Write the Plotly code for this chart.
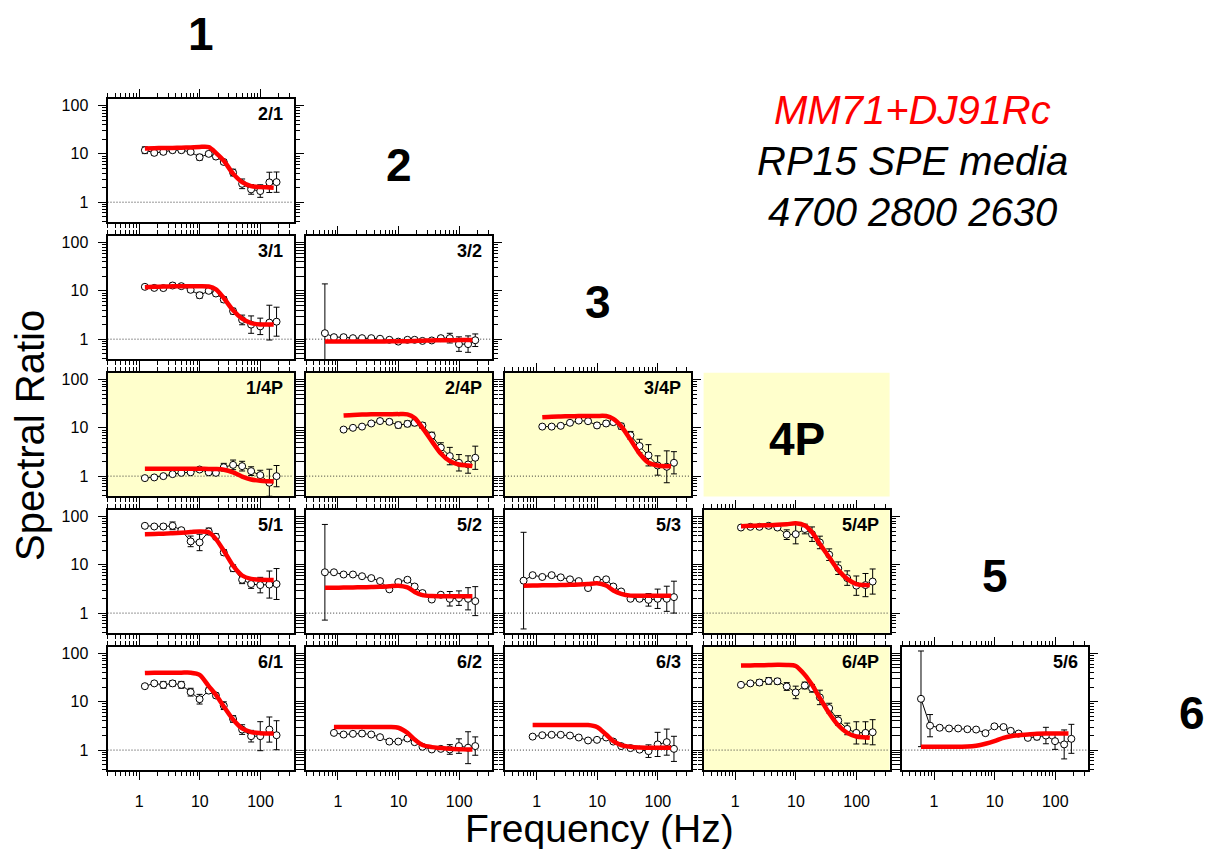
import numpy as np
import plotly.graph_objects as go

# ---------------- data ----------------
FREQ = [0.61, 0.86, 1.24, 1.77, 2.5, 3.55, 4.95, 7.05, 9.9, 14.0, 18.4, 24.8,
        35.3, 49.8, 70.0, 99.0, 140.0, 184.0]
FIT_FREQ = [0.61, 0.86, 1.24, 1.77, 2.5, 3.55, 4.95, 7.05, 9.9, 14.0, 18.4, 24.8,
            35.3, 49.8, 70.0, 99.0, 140.0, 165.0]

X_RANGE = [0.3, 350]
Y_RANGE = [0.38, 138]
REF_LEVEL = 1
N = None

# observed ratio, error (log10 half-width), model fit
R_2_1 = [N, N, 11.9, 10.5, 11.0, 11.9, 11.9, 11.0, 8.5, 10.0, 8.8, 6.8, 4.1, 2.4, 1.84, 1.7, 2.57, 2.6]
E_2_1 = [N, N, 0.07, 0.05, 0.05, 0.05, 0.05, 0.05, 0.06, 0.05, 0.05, 0.05, 0.07, 0.1, 0.1, 0.13, 0.21, 0.21]
F_2_1 = [N, N, 12.9, 13.1, 13.2, 13.3, 13.4, 13.6, 13.9, 13.8, 10.5, 7.2, 3.9, 2.6, 2.15, 2.05, 2.02, 2.0]

R_3_1 = [N, N, 12.1, 11.5, 11.4, 12.9, 12.5, 10.5, 8.1, 10.0, 8.8, 6.6, 3.8, 2.5, 2.0, 1.84, 2.2, 2.3]
E_3_1 = [N, N, 0.04, 0.04, 0.04, 0.05, 0.04, 0.05, 0.06, 0.05, 0.05, 0.06, 0.06, 0.1, 0.18, 0.17, 0.36, 0.3]
F_3_1 = [N, N, 11.9, 12.1, 12.3, 12.4, 12.5, 12.5, 12.5, 12.3, 10.7, 7.1, 3.95, 2.65, 2.15, 2.02, 2.0, 2.0]

R_3_2 = [1.33, 1.1, 1.1, 1.05, 1.05, 1.05, 1.02, 0.97, 0.89, 0.97, 0.97, 0.92, 0.94, 1.05, 1.05, 0.79, 0.79, 0.95]
E_3_2 = [1.02, 0.04, 0.04, 0.03, 0.03, 0.03, 0.03, 0.03, 0.03, 0.03, 0.03, 0.03, 0.03, 0.04, 0.1, 0.15, 0.17, 0.13]
F_3_2 = [0.89, 0.89, 0.89, 0.89, 0.89, 0.89, 0.89, 0.9, 0.9, 0.91, 0.92, 0.93, 0.94, 0.95, 0.95, 0.96, 0.96, 0.96]

R_1_4P = [N, N, 0.91, 0.94, 1.0, 1.1, 1.17, 1.2, 1.37, 1.2, 1.17, 1.53, 1.71, 1.61, 1.27, 1.05, 0.73, 1.0]
E_1_4P = [N, N, 0.03, 0.03, 0.03, 0.03, 0.03, 0.03, 0.04, 0.05, 0.05, 0.08, 0.1, 0.1, 0.09, 0.1, 0.28, 0.22]
F_1_4P = [N, N, 1.42, 1.42, 1.42, 1.42, 1.42, 1.42, 1.42, 1.41, 1.4, 1.36, 1.2, 0.98, 0.85, 0.8, 0.78, 0.77]

R_2_4P = [N, N, 9.2, 10.0, 10.6, 12.3, 13.8, 13.3, 11.4, 12.1, 12.7, 11.2, 6.9, 3.9, 2.6, 1.89, 1.74, 2.4]
E_2_4P = [N, N, 0.04, 0.03, 0.03, 0.04, 0.05, 0.05, 0.06, 0.06, 0.06, 0.06, 0.07, 0.1, 0.18, 0.17, 0.18, 0.24]
F_2_4P = [N, N, 18.0, 18.5, 18.8, 19.0, 19.0, 19.1, 19.2, 19.0, 16.0, 10.0, 5.3, 2.95, 2.05, 1.74, 1.66, 1.61]

R_3_4P = [N, N, 10.6, 10.6, 11.0, 12.7, 14.1, 13.7, 11.2, 12.3, 13.1, 10.8, 7.0, 4.2, 2.7, 1.66, 1.56, 1.89]
E_3_4P = [N, N, 0.03, 0.03, 0.03, 0.04, 0.04, 0.04, 0.05, 0.05, 0.05, 0.06, 0.08, 0.14, 0.22, 0.2, 0.33, 0.23]
F_3_4P = [N, N, 16.6, 17.0, 17.2, 17.4, 17.5, 17.6, 17.6, 17.5, 15.3, 10.8, 5.7, 2.94, 1.89, 1.66, 1.6, 1.6]

R_5_1 = [N, N, 64, 62, 62, 64, 52, 30.5, 29, 49, 38, 18, 8.5, 4.9, 4.0, 3.8, 3.9, 4.0]
E_5_1 = [N, N, 0.04, 0.04, 0.05, 0.08, 0.04, 0.11, 0.17, 0.07, 0.06, 0.06, 0.07, 0.08, 0.09, 0.16, 0.28, 0.32]
F_5_1 = [N, N, 43, 43.5, 44, 45, 46, 47.5, 49, 47, 34, 19.6, 9.6, 6.0, 5.1, 4.9, 4.87, 4.87]

R_5_2 = [7.0, 7.0, 6.3, 6.3, 5.8, 5.3, 4.6, 3.1, 4.4, 4.9, 3.55, 2.6, 1.91, 2.4, 1.98, 2.04, 1.98, 1.77]
E_5_2 = [0.99, 0.03, 0.03, 0.03, 0.03, 0.03, 0.03, 0.03, 0.04, 0.04, 0.04, 0.04, 0.04, 0.04, 0.15, 0.15, 0.23, 0.3]
F_5_2 = [3.33, 3.35, 3.37, 3.4, 3.43, 3.46, 3.5, 3.6, 3.7, 3.4, 2.75, 2.35, 2.25, 2.24, 2.24, 2.24, 2.24, 2.24]

R_5_3 = [4.7, 6.1, 5.6, 6.1, 5.5, 5.0, 4.6, 3.3, 4.9, 5.0, 3.55, 2.8, 1.98, 1.98, 1.88, 1.98, 1.98, 2.14]
E_5_3 = [1.0, 0.03, 0.03, 0.03, 0.03, 0.03, 0.03, 0.03, 0.04, 0.04, 0.03, 0.03, 0.03, 0.03, 0.13, 0.2, 0.26, 0.33]
F_5_3 = [3.7, 3.72, 3.75, 3.78, 3.8, 3.85, 3.9, 4.0, 4.16, 3.72, 2.93, 2.5, 2.3, 2.3, 2.3, 2.3, 2.3, 2.3]

R_5_4P = [N, N, 59, 61, 61, 64, 59, 42, 43, 55, 43, 29, 16.2, 8.5, 5.3, 3.7, 3.8, 4.5]
E_5_4P = [N, N, 0.03, 0.03, 0.04, 0.05, 0.04, 0.1, 0.2, 0.1, 0.15, 0.13, 0.12, 0.13, 0.15, 0.2, 0.24, 0.26]
F_5_4P = [N, N, 63, 64, 65, 66, 67, 69, 72, 65, 47, 27, 14.3, 7.8, 5.1, 4.0, 3.8, 3.8]

R_6_1 = [N, N, 21, 24, 22.4, 24, 22.4, 15.8, 11.3, 17, 13.5, 8.3, 4.4, 2.66, 1.94, 1.94, 2.66, 2.03]
E_6_1 = [N, N, 0.04, 0.04, 0.07, 0.06, 0.07, 0.08, 0.1, 0.06, 0.05, 0.08, 0.07, 0.1, 0.12, 0.3, 0.26, 0.3]
F_6_1 = [N, N, 39.5, 40, 40, 40, 40, 40, 36, 21, 13.9, 8.0, 4.3, 2.8, 2.36, 2.24, 2.2, 2.2]

R_6_2 = [N, 2.27, 2.1, 2.17, 2.2, 2.1, 1.85, 1.5, 1.5, 1.74, 1.46, 1.17, 1.03, 1.06, 1.03, 1.21, 1.12, 1.21]
E_6_2 = [N, 0.03, 0.03, 0.03, 0.05, 0.03, 0.03, 0.03, 0.03, 0.03, 0.03, 0.03, 0.03, 0.03, 0.1, 0.15, 0.33, 0.19]
F_6_2 = [N, 3.0, 3.0, 3.0, 3.0, 3.0, 3.0, 3.0, 2.9, 2.27, 1.65, 1.27, 1.15, 1.1, 1.06, 1.04, 1.03, 1.03]

R_6_3 = [N, 1.9, 2.03, 2.07, 2.07, 2.0, 1.82, 1.58, 1.63, 1.82, 1.5, 1.21, 1.1, 1.02, 0.95, 1.31, 1.46, 1.06]
E_6_3 = [N, 0.03, 0.03, 0.03, 0.03, 0.03, 0.03, 0.03, 0.03, 0.03, 0.03, 0.03, 0.03, 0.03, 0.13, 0.25, 0.27, 0.26]
F_6_3 = [N, 3.3, 3.3, 3.3, 3.3, 3.3, 3.3, 3.3, 3.0, 2.1, 1.53, 1.27, 1.17, 1.13, 1.12, 1.12, 1.12, 1.12]

R_6_4P = [N, N, 22.4, 24, 25, 27, 26.5, 20.7, 15.6, 21.7, 19, 12.3, 7.4, 4.1, 2.74, 2.27, 2.27, 2.34]
E_6_4P = [N, N, 0.03, 0.04, 0.06, 0.07, 0.06, 0.08, 0.13, 0.07, 0.08, 0.15, 0.1, 0.1, 0.12, 0.23, 0.23, 0.26]
F_6_4P = [N, N, 56, 56.5, 57, 57.5, 58, 57.6, 55, 36, 22.4, 11.9, 5.8, 3.26, 2.27, 1.91, 1.83, 1.79]

R_5_6 = [11.5, 3.2, 2.9, 2.8, 2.8, 2.7, 2.66, 2.24, 3.1, 3.0, 2.5, 2.2, 1.79, 1.88, 2.0, 1.53, 1.31, 1.71]
E_5_6 = [0.99, 0.23, 0.04, 0.04, 0.04, 0.04, 0.03, 0.03, 0.03, 0.03, 0.03, 0.03, 0.03, 0.06, 0.17, 0.17, 0.3, 0.3]
F_5_6 = [1.17, 1.17, 1.17, 1.17, 1.17, 1.18, 1.23, 1.35, 1.53, 1.79, 1.94, 2.03, 2.1, 2.17, 2.2, 2.2, 2.2, 2.2]

# (label, row, col, ratio, err, fit)
PANELS = [
    ("2/1", 0, 0, R_2_1, E_2_1, F_2_1),
    ("3/1", 1, 0, R_3_1, E_3_1, F_3_1),
    ("3/2", 1, 1, R_3_2, E_3_2, F_3_2),
    ("1/4P", 2, 0, R_1_4P, E_1_4P, F_1_4P),
    ("2/4P", 2, 1, R_2_4P, E_2_4P, F_2_4P),
    ("3/4P", 2, 2, R_3_4P, E_3_4P, F_3_4P),
    ("5/1", 3, 0, R_5_1, E_5_1, F_5_1),
    ("5/2", 3, 1, R_5_2, E_5_2, F_5_2),
    ("5/3", 3, 2, R_5_3, E_5_3, F_5_3),
    ("5/4P", 3, 3, R_5_4P, E_5_4P, F_5_4P),
    ("6/1", 4, 0, R_6_1, E_6_1, F_6_1),
    ("6/2", 4, 1, R_6_2, E_6_2, F_6_2),
    ("6/3", 4, 2, R_6_3, E_6_3, F_6_3),
    ("6/4P", 4, 3, R_6_4P, E_6_4P, F_6_4P),
    ("5/6", 4, 4, R_5_6, E_5_6, F_5_6),
]
STATIONS = ["1", "2", "3", "4P", "5", "6"]
HIGHLIGHT = "4P"
TITLE_LINES = ["MM71+DJ91Rc", "RP15 SPE media", "4700 2800 2630"]
TITLE_COLORS = ["#ff0000", "#000000", "#000000"]

# ---------------- layout geometry (screen pixels) ----------------
OFF = 8                      # page body margin
W, H = 1217 - 2 * OFF, 857 - 2 * OFF
COL_X0, COL_STEP, PW = 107.5, 198.7, 186.0
ROW_Y0, ROW_STEP, PH = 97.0, 137.3, 124.0
YELLOW = "rgb(255,255,204)"
FONT = "Liberation Sans, Arial, Helvetica, sans-serif"


def px(x):
    return (x - OFF) / W


def py(y):
    return 1 - (y - OFF) / H


def dom(row, col):
    left = COL_X0 + col * COL_STEP
    top = ROW_Y0 + row * ROW_STEP
    return [px(left), px(left + PW)], [py(top + PH), py(top)]


fig = go.Figure()
layout = dict(
    width=W, height=H, margin=dict(l=0, r=0, t=0, b=0),
    paper_bgcolor="white", plot_bgcolor="white", showlegend=False,
    font=dict(family=FONT, color="black"),
)
shapes, annotations = [], []

for i, (label, row, col, ratio, err, fit) in enumerate(PANELS, start=1):
    sfx = "" if i == 1 else str(i)
    xd, yd = dom(row, col)
    common = dict(
        type="log", showline=True, linewidth=2, linecolor="black", mirror="allticks",
        ticks="outside", ticklen=8, tickwidth=1, tickcolor="black", dtick=1,
        showgrid=False, zeroline=False,
        tickfont=dict(size=16, family=FONT, color="black"),
        minor=dict(ticks="outside", ticklen=4, tickwidth=1, tickcolor="black",
                   dtick="D1", showgrid=False),
    )
    layout["xaxis" + sfx] = dict(common, domain=xd, anchor="y" + sfx,
                                 range=[np.log10(X_RANGE[0]), np.log10(X_RANGE[1])],
                                 showticklabels=(row == 4), ticklabelstandoff=7)
    layout["yaxis" + sfx] = dict(common, domain=yd, anchor="x" + sfx,
                                 range=[np.log10(Y_RANGE[0]), np.log10(Y_RANGE[1])],
                                 showticklabels=(col == 0), ticklabelstandoff=6)
    if HIGHLIGHT in label:
        shapes.append(dict(type="rect", xref="x%s domain" % sfx, yref="y%s domain" % sfx,
                           x0=0, x1=1, y0=0, y1=1, fillcolor=YELLOW,
                           line=dict(width=0), layer="below"))
    shapes.append(dict(type="line", xref="x%s domain" % sfx, yref="y" + sfx,
                       x0=0, x1=1, y0=REF_LEVEL, y1=REF_LEVEL,
                       line=dict(color="#333333", width=1, dash="1px,2px"), layer="below"))

    idx = [k for k, v in enumerate(ratio) if v is not None]
    f = np.array([FREQ[k] for k in idx])
    r = np.array([ratio[k] for k in idx])
    e = np.array([err[k] for k in idx])
    fig.add_trace(go.Scatter(
        x=f, y=r, mode="lines+markers", xaxis="x" + sfx, yaxis="y" + sfx,
        line=dict(color="black", width=1),
        marker=dict(symbol="circle", size=7, color="white", line=dict(color="black", width=1)),
        error_y=dict(type="data", symmetric=False, array=r * (10 ** e - 1),
                     arrayminus=r * (1 - 10 ** (-e)), color="black", thickness=1, width=3),
    ))
    jdx = [k for k, v in enumerate(fit) if v is not None]
    fig.add_trace(go.Scatter(
        x=[FIT_FREQ[k] for k in jdx], y=[fit[k] for k in jdx], mode="lines",
        xaxis="x" + sfx, yaxis="y" + sfx,
        line=dict(color="#ff0000", width=4.5, shape="spline", smoothing=0.8),
    ))
    annotations.append(dict(text="<b>%s</b>" % label, xref="x%s domain" % sfx,
                            yref="y%s domain" % sfx, x=0.955, y=0.88, xanchor="right",
                            yanchor="middle", showarrow=False,
                            font=dict(size=18, family=FONT, color="black")))

# station labels along the diagonal
for k, name in enumerate(STATIONS):
    cx = COL_X0 + k * COL_STEP + PW / 2
    cy = ROW_Y0 + (k - 1) * ROW_STEP + PH / 2
    if name == HIGHLIGHT:
        xd, yd = dom(k - 1, k)
        shapes.append(dict(type="rect", xref="paper", yref="paper", x0=xd[0], x1=xd[1],
                           y0=yd[0], y1=yd[1], fillcolor=YELLOW, line=dict(width=0),
                           layer="below"))
    annotations.append(dict(text="<b>%s</b>" % name, xref="paper", yref="paper",
                            x=px(min(cx, 1192)), y=py(max(cy + 4, 32)), xanchor="center",
                            yanchor="middle", showarrow=False,
                            font=dict(size=46, family=FONT, color="black")))

# title block
for j, (txt, colr) in enumerate(zip(TITLE_LINES, TITLE_COLORS)):
    annotations.append(dict(text="<i>%s</i>" % txt, xref="paper", yref="paper",
                            x=px(912), y=py(108 + j * 51), xanchor="center", yanchor="middle",
                            showarrow=False, font=dict(size=40, family=FONT, color=colr)))

annotations.append(dict(text="Spectral Ratio", xref="paper", yref="paper", x=px(30), y=py(435),
                        textangle=-90, xanchor="center", yanchor="middle", showarrow=False,
                        font=dict(size=40, family=FONT, color="black")))
annotations.append(dict(text="Frequency (Hz)", xref="paper", yref="paper", x=px(599), y=py(828),
                        xanchor="center", yanchor="middle", showarrow=False,
                        font=dict(size=39, family=FONT, color="black")))

layout["shapes"] = shapes
layout["annotations"] = annotations
fig.update_layout(**layout)
fig.write_html("out.html")
